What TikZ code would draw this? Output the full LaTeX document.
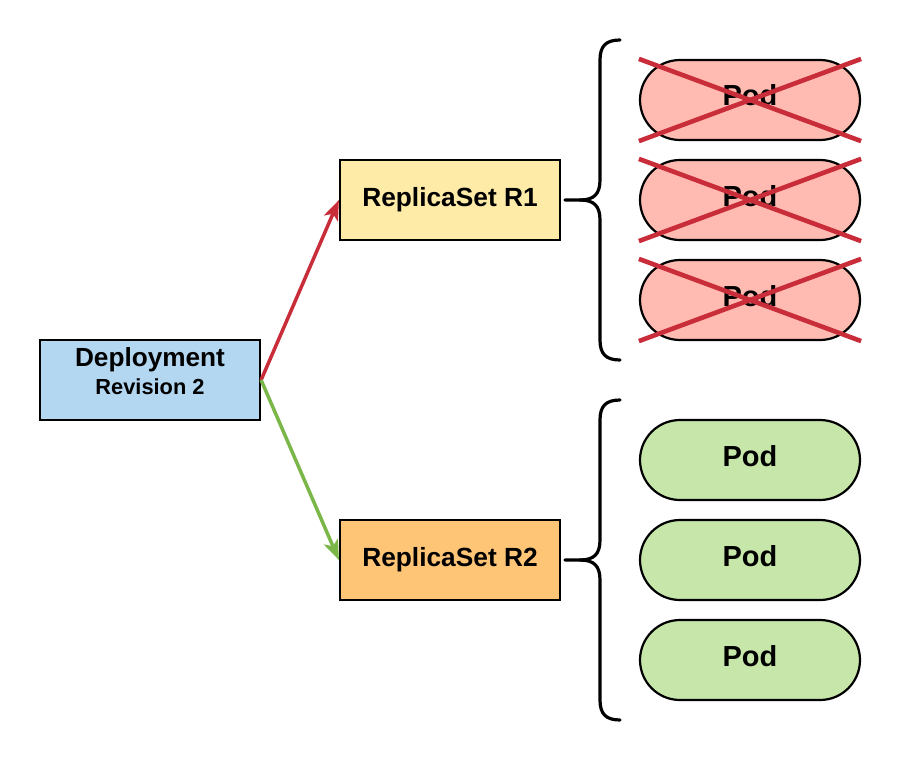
\documentclass[tikz,border=0pt]{standalone}
\usepackage{fontspec}
\setmainfont{Liberation Sans}
\usetikzlibrary{arrows.meta}
\definecolor{depfill}{HTML}{B3D7F1}
\definecolor{rsonefill}{HTML}{FFEBA8}
\definecolor{rstwofill}{HTML}{FFC576}
\definecolor{podred}{HTML}{FFBBB1}
\definecolor{podgreen}{HTML}{C7E7AA}
\definecolor{linered}{HTML}{C92D39}
\definecolor{linegreen}{HTML}{7AB648}
\begin{document}
\begin{tikzpicture}[x=1pt,y=-1pt,
  box/.style={draw=black, line width=2.2pt, minimum width=220pt, minimum height=80pt, inner sep=0pt,
    font=\bfseries\fontsize{26.3}{30}\selectfont},
  podbox/.style={box, rounded corners=40pt, font=\bfseries\fontsize{29}{34}\selectfont,
    text height=21pt, text depth=9pt},
  lbl/.style={inner sep=0pt, anchor=base},
  cross/.style={draw=linered, line width=4.6pt},
  conn/.style={line width=3.5pt, -{Stealth[length=20pt,width=15pt,inset=5pt]}},
  bracestyle/.style={draw=black, line width=3.2pt, line cap=round, line join=round}
]
\useasboundingbox (0,0) rectangle (900,760);

% Deployment
\node[box, fill=depfill] (dep) at (150,380) {};
\node[lbl, font=\bfseries\fontsize{26.2}{30}\selectfont] (deptitle) at (150,366) {Deployment};
\node[lbl, font=\bfseries\fontsize{21.8}{26}\selectfont] (deprev) at (150,394) {Revision 2};

% ReplicaSets
\node[box, fill=rsonefill] (rsone) at (450,200) {ReplicaSet R1};
\node[box, fill=rstwofill] (rstwo) at (450,560) {ReplicaSet R2};

% Old pods
\node[podbox, fill=podred] (pa) at (750,100) {Pod};
\node[podbox, fill=podred] (pb) at (750,200) {Pod};
\node[podbox, fill=podred] (pc) at (750,300) {Pod};
\foreach \p in {pa,pb,pc}{
  \draw[cross] (\p.north west) -- (\p.south east);
  \draw[cross] (\p.south west) -- (\p.north east);
}

% New pods
\node[podbox, fill=podgreen] (pd) at (750,460) {Pod};
\node[podbox, fill=podgreen] (pe) at (750,560) {Pod};
\node[podbox, fill=podgreen] (pf) at (750,660) {Pod};

% Connectors
\draw[conn, draw=linered, fill=linered] (dep.east) -- (rsone.west);
\draw[conn, draw=linegreen, fill=linegreen] (dep.east) -- (rstwo.west);

% Braces
\coordinate (bonetip) at (565,200);
\coordinate (btwotip) at (565,560);
\draw[bracestyle] (620,40) .. controls (606,40) and (600,46) .. (600,60)
  -- (600,180) .. controls (600,194) and (594,200) .. (580,200) -- (bonetip);
\draw[bracestyle] (620,360) .. controls (606,360) and (600,354) .. (600,340)
  -- (600,220) .. controls (600,206) and (594,200) .. (580,200);
\draw[bracestyle] (620,400) .. controls (606,400) and (600,406) .. (600,420)
  -- (600,540) .. controls (600,554) and (594,560) .. (580,560) -- (btwotip);
\draw[bracestyle] (620,720) .. controls (606,720) and (600,714) .. (600,700)
  -- (600,580) .. controls (600,566) and (594,560) .. (580,560);
\end{tikzpicture}
\end{document}
